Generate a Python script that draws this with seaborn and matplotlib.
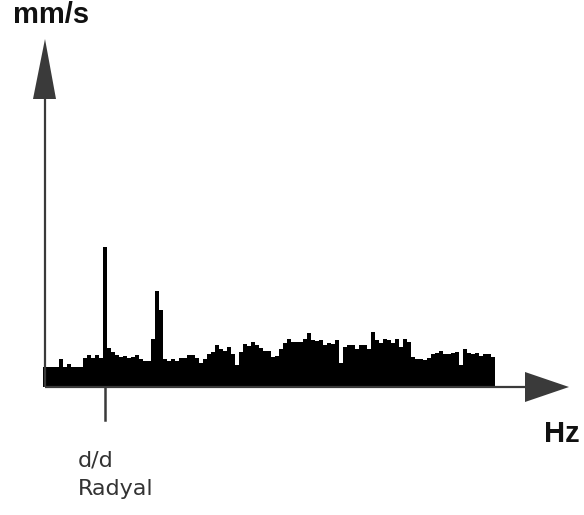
import numpy as np
import pandas as pd
import seaborn as sns
import matplotlib.pyplot as plt
from matplotlib.patches import Polygon

# spektrum genlikleri (her bin bir frekans adimi)
amplitude = [20, 20, 20, 20, 28, 20, 23, 20, 20, 20,
             29, 32, 29, 32, 29, 140, 39, 35, 32, 30,
             31, 29, 30, 32, 28, 26, 26, 48, 96, 77,
             28, 26, 28, 26, 29, 29, 32, 32, 29, 24,
             28, 33, 35, 42, 38, 36, 40, 33, 22, 35,
             43, 41, 45, 42, 39, 36, 36, 30, 31, 38,
             44, 48, 45, 45, 45, 48, 54, 47, 46, 47,
             42, 44, 43, 47, 24, 40, 42, 42, 38, 42,
             42, 38, 55, 47, 44, 48, 47, 44, 48, 40,
             48, 45, 30, 28, 28, 27, 29, 33, 34, 36,
             33, 33, 34, 35, 22, 38, 34, 33, 34, 31,
             33, 33, 30]
frequency = np.arange(len(amplitude))
marker_freq = 15
marker_labels = ["d/d", "Radyal"]
x_label = "Hz"
y_label = "mm/s"

df = pd.DataFrame({"freq": frequency, "amp": amplitude})

fig = plt.figure(figsize=(5.84, 5.15), dpi=100)
ax = fig.add_axes([0, 0, 1, 1])

sns.histplot(data=df, x="freq", weights="amp", discrete=True, element="step",
             fill=True, color="black", alpha=1, linewidth=0, ax=ax)

axis_col = "#3a3a3a"
# eksenler
ax.plot([0, 121], [0, 0], color=axis_col, lw=1.6, solid_capstyle="butt")
ax.plot([0, 0], [0, 290], color=axis_col, lw=1.6, solid_capstyle="butt")
ax.add_patch(Polygon([[120, 15], [131, 0], [120, -15]], closed=True,
                     color=axis_col, lw=0))
ax.add_patch(Polygon([[-3, 288], [0, 348], [2.75, 288]], closed=True,
                     color=axis_col, lw=0))
# isaret cizgisi
ax.plot([marker_freq, marker_freq], [0, -33], color=axis_col, lw=1.8)

ax.text(-8, 364, y_label, fontsize=21, fontweight="bold",
        family=["Liberation Sans", "DejaVu Sans"], color="#111111")
ax.text(124.75, -55, x_label, fontsize=21, fontweight="bold",
        family=["Liberation Sans", "DejaVu Sans"], color="#111111")
ax.text(8.25, -79, marker_labels[0], fontsize=16, color="#333333",
        family=["DejaVu Sans"])
ax.text(8.25, -108, marker_labels[1], fontsize=16, color="#333333",
        family=["DejaVu Sans"])

ax.set_xlim(-11.25, 134.75)
ax.set_ylim(-128, 387)
ax.axis("off")

fig.savefig("out.png", dpi=100)
